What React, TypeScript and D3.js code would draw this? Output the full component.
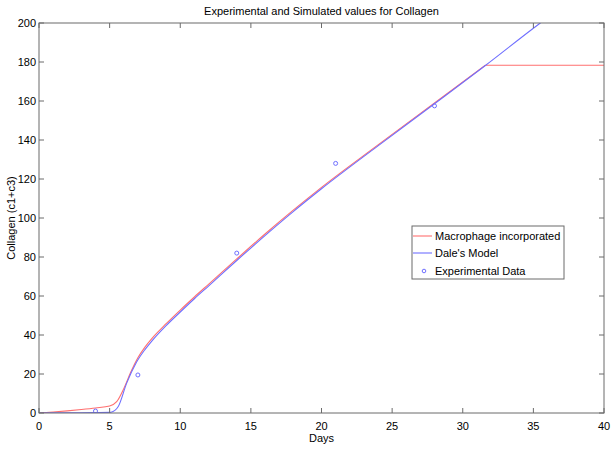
import React from 'react';
import * as d3 from 'd3';

// values
const macroDays = [0, 1, 2, 3, 4, 5, 5.5, 6, 6.5, 7, 7.5, 8, 9, 10, 11, 12, 14, 16, 18, 20, 24, 28, 31.6, 40];
const macroValues = [0, 0.5, 1.1, 1.8, 2.6, 3.6, 5.8, 12.5, 21, 28.3, 33.8, 38.3, 45.8, 52.8, 59.5, 66, 79, 91.8, 104, 115.7, 137.5, 159, 178.3, 178.3];

const daleDays = [0, 2, 4, 5, 5.1, 5.6, 6.2, 6.9, 7.5, 8, 9, 10, 11, 12, 14, 16, 18, 20, 24, 28, 31.6, 35.4, 37];
const daleValues = [0, 0.1, 0.2, 0.3, 0.4, 3.2, 15.2, 26, 32.5, 37, 44.8, 51.8, 58.6, 65.1, 78.2, 91, 103.3, 115, 137, 158.6, 178.2, 199.5, 208];

const expDays = [4, 7, 14, 21, 28];
const expValues = [1, 19.5, 82, 128, 157.5];

const xTicks = [0, 5, 10, 15, 20, 25, 30, 35, 40];
const yTicks = [0, 20, 40, 60, 80, 100, 120, 140, 160, 180, 200];

const W = 615;
const H = 450;
const margin = { top: 23, right: 11, bottom: 37, left: 39 };
const font = '"Liberation Sans", Arial, sans-serif';
const axisColor = '#6b6b6b';
const red = '#ff6f6f';
const blue = '#6f6fff';

export default function App() {
  const x = d3.scaleLinear().domain([0, 40]).range([margin.left, W - margin.right]);
  const y = d3.scaleLinear().domain([0, 200]).range([H - margin.bottom, margin.top]);

  const smooth = d3.line<[number, number]>()
    .x(d => x(d[0]))
    .y(d => y(d[1]))
    .curve(d3.curveMonotoneX);
  const straight = d3.line<[number, number]>()
    .x(d => x(d[0]))
    .y(d => y(d[1]));

  const macroPts: [number, number][] = macroDays.map((d, i) => [d, macroValues[i]]);
  // rising part is smooth, the plateau after the kink is a straight segment
  const kink = macroPts.length - 2;
  const macroRise = smooth(macroPts.slice(0, kink + 1));
  const macroFlat = straight(macroPts.slice(kink));
  const dalePath = smooth(daleDays.map((d, i) => [d, daleValues[i]] as [number, number]));

  const x0 = margin.left, x1 = W - margin.right;
  const y0 = H - margin.bottom, y1 = margin.top;
  const tick = 5;

  const lx = 412, ly = 226;

  return (
    <svg width={W} height={H} style={{ position: 'absolute', left: 0, top: 0, background: '#fff' }}
      fontFamily={font}>
      <defs>
        <clipPath id="plot-clip">
          <rect x={x0} y={y1} width={x1 - x0} height={y0 - y1} />
        </clipPath>
      </defs>
      <rect width={W} height={H} fill="#fff" />

      {/* curves */}
      <g clipPath="url(#plot-clip)" fill="none">
        <path d={macroRise ?? ''} stroke={red} strokeWidth={1.1} />
        <path d={macroFlat ?? ''} stroke={red} strokeWidth={1.1} />
        <path d={dalePath ?? ''} stroke={blue} strokeWidth={1.1} />
        {expDays.map((d, i) => (
          <circle key={i} cx={x(d)} cy={y(expValues[i])} r={2} stroke={blue} strokeWidth={1} />
        ))}
      </g>

      {/* box + ticks */}
      <rect x={x0} y={y1} width={x1 - x0} height={y0 - y1} fill="none" stroke={axisColor} strokeWidth={1} />
      {xTicks.map(t => (
        <g key={'x' + t}>
          <line x1={x(t)} x2={x(t)} y1={y0} y2={y0 - tick} stroke={axisColor} />
          <line x1={x(t)} x2={x(t)} y1={y1} y2={y1 + tick} stroke={axisColor} />
          <text x={x(t)} y={y0 + 17} fontSize={11} textAnchor="middle" fill="#000">{t}</text>
        </g>
      ))}
      {yTicks.map(t => (
        <g key={'y' + t}>
          <line x1={x0} x2={x0 + tick} y1={y(t)} y2={y(t)} stroke={axisColor} />
          <line x1={x1} x2={x1 - tick} y1={y(t)} y2={y(t)} stroke={axisColor} />
          <text x={x0 - 3} y={y(t) + 4} fontSize={11} textAnchor="end" fill="#000">{t}</text>
        </g>
      ))}

      {/* labels */}
      <text x={(x0 + x1) / 2} y={15} fontSize={11} textAnchor="middle">Experimental and Simulated values for Collagen</text>
      <text x={(x0 + x1) / 2} y={442} fontSize={11} textAnchor="middle">Days</text>
      <text transform={`translate(15,${(y0 + y1) / 2}) rotate(-90)`} fontSize={11} textAnchor="middle">Collagen (c1+c3)</text>

      {/* legend */}
      <g>
        <rect x={lx} y={ly} width={152} height={53} fill="#fff" stroke={axisColor} />
        <line x1={lx + 1} x2={lx + 20} y1={ly + 10} y2={ly + 10} stroke={red} strokeWidth={1.1} />
        <text x={lx + 23} y={ly + 14} fontSize={11}>Macrophage incorporated</text>
        <line x1={lx + 1} x2={lx + 20} y1={ly + 27} y2={ly + 27} stroke={blue} strokeWidth={1.1} />
        <text x={lx + 23} y={ly + 31} fontSize={11}>Dale's Model</text>
        <circle cx={lx + 12} cy={ly + 45} r={1.8} fill="none" stroke={blue} />
        <text x={lx + 23} y={ly + 49} fontSize={11}>Experimental Data</text>
      </g>
    </svg>
  );
}
